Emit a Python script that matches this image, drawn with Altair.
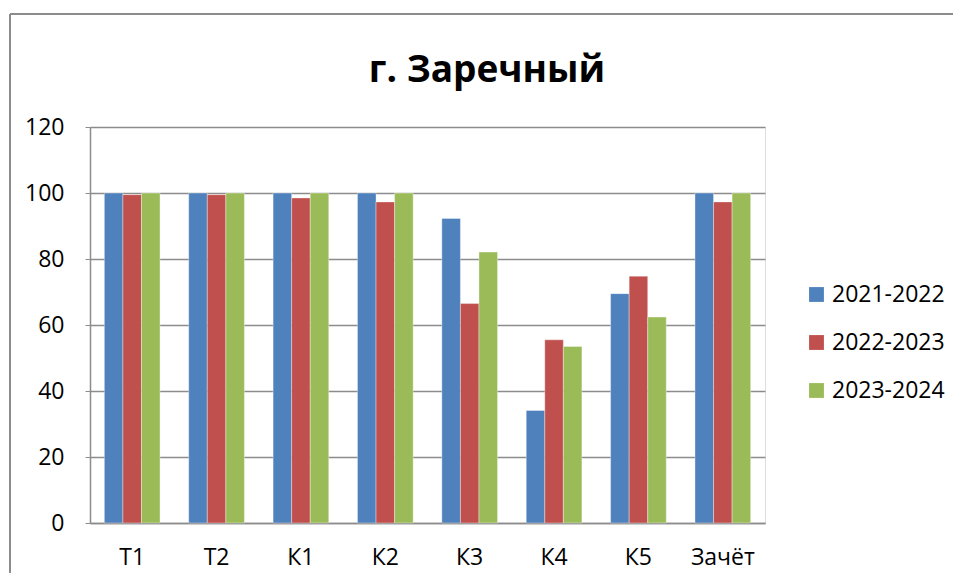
import altair as alt
import pandas as pd

categories = ["Т1", "Т2", "К1", "К2", "К3", "К4", "К5", "Зачёт"]
series = ["2021-2022", "2022-2023", "2023-2024"]
v2021 = [100, 100, 100, 100, 92.3, 34.1, 69.5, 100]
v2022 = [99.5, 99.5, 98.5, 97.3, 66.5, 55.5, 74.8, 97.3]
v2023 = [100, 100, 100, 100, 82.1, 53.5, 62.4, 100]
colors = ["#4F81BD", "#C0504D", "#9BBB59"]
title_text = "г. Заречный"

rows = []
for s, vals in zip(series, [v2021, v2022, v2023]):
    for c, v in zip(categories, vals):
        rows.append({"cat": c, "series": s, "value": v})
df = pd.DataFrame(rows)

FONT = "Open Sans"

bars = alt.Chart(df).mark_bar(stroke="#ffffff", strokeWidth=0.6, strokeOpacity=0.6).encode(
    x=alt.X("cat:N", sort=categories, title=None,
            scale=alt.Scale(paddingInner=0.34, paddingOuter=0.17),
            axis=alt.Axis(labelAngle=0, ticks=False, domainColor="#8c8c8c", domainWidth=1.5)),
    xOffset=alt.XOffset("series:N", sort=series),
    y=alt.Y("value:Q", title=None,
            scale=alt.Scale(domain=[0, 120]),
            axis=alt.Axis(values=[0, 20, 40, 60, 80, 100, 120], tickSize=5, tickColor="#8c8c8c",
                          domainColor="#8c8c8c", domainWidth=1.5,
                          gridColor="#8c8c8c", gridWidth=1.5)),
    color=alt.Color("series:N", sort=series,
                    scale=alt.Scale(domain=series, range=colors),
                    legend=alt.Legend(title=None, orient="none", legendX=715, legendY=156,
                                      symbolType="square", symbolSize=220, symbolStrokeWidth=0,
                                      labelFontSize=23, labelFont=FONT, labelColor="#000000",
                                      rowPadding=24, labelOffset=4)),
)

title = alt.Chart(pd.DataFrame({"t": [title_text]})).mark_text(
    font=FONT, fontSize=37, fontWeight="bold", color="#000000", align="center", baseline="alphabetic"
).encode(text="t:N", x=alt.value(397), y=alt.value(-45))

frame_left = alt.Chart(pd.DataFrame({"k": [0]})).mark_rule(color="#8c8c8c", strokeWidth=2).encode(
    x=alt.value(-80), y=alt.value(-113), y2=alt.value(600))
frame_top = alt.Chart(pd.DataFrame({"k": [0]})).mark_rule(color="#8c8c8c", strokeWidth=2).encode(
    x=alt.value(-80), x2=alt.value(1000), y=alt.value(-113))

chart = alt.layer(bars, title, frame_left, frame_top).properties(
    width=675, height=396,
    autosize=alt.AutoSizeParams(type="none"),
    padding={"left": 82, "top": 119, "right": 188, "bottom": 50},
).configure_view(stroke=None).configure(background="#ffffff").configure_axisX(
    labelFontSize=23, labelFont=FONT, labelColor="#000000", labelPadding=23
).configure_axisY(
    labelFontSize=23, labelFont=FONT, labelColor="#000000", labelPadding=21
)

chart.save("out.html", embed_options={"renderer": "svg", "actions": False})
